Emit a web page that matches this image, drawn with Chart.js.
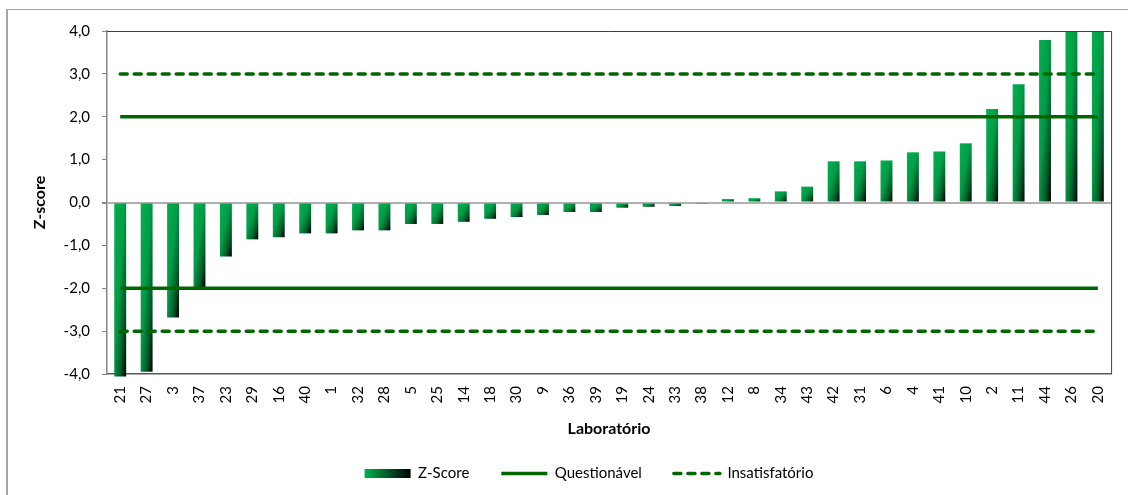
<!DOCTYPE html>
<html>
<head>
<meta charset="utf-8">
<script src="https://cdn.jsdelivr.net/npm/chart.js@4"></script>
<style>
  html, body { margin: 0; padding: 0; background: #fff; }
  #wrap { position: relative; width: 1128px; height: 495px; overflow: hidden; }
  #frame { position: absolute; left: 6px; top: 9px; width: 1200px; height: 600px;
           border-left: 2px solid #a6a6a6; border-top: 1px solid #a6a6a6; }
  #chart { position: absolute; left: 0; top: 0; }
</style>
</head>
<body>
<div id="wrap">
  <div id="frame"></div>
  <canvas id="chart" width="1128" height="495"></canvas>
</div>
<script>
// laboratories, sorted by z-score
const labs = ['21','27','3','37','23','29','16','40','1','32','28','5','25','14','18','30','9','36','39',
              '19','24','33','38','12','8','34','43','42','31','6','4','41','10','2','11','44','26','20'];
const zScores = [-4.06,-3.95,-2.68,-2.0,-1.26,-0.86,-0.81,-0.72,-0.72,-0.65,-0.65,-0.50,-0.50,-0.45,-0.38,
                 -0.34,-0.29,-0.22,-0.22,-0.12,-0.10,-0.08,-0.03,0.08,0.10,0.26,0.37,0.96,0.96,0.98,
                 1.17,1.19,1.38,2.18,2.76,3.79,4.0,4.0];
// limits
const questionavel = 2;
const insatisfatorio = 3;
const yTicks = [-4, -3, -2, -1, 0, 1, 2, 3, 4];

const GREEN = '#00b050';
const LINE_GREEN = '#006600';
const BAR_PCT = 0.45;
const FONT = 'Lato, "Open Sans", sans-serif';

const flat = v => labs.map(() => v);

// 45 degree gradient scaled to each bar
function barFill(c) {
  const chart = c.chart;
  const xs = chart.scales.x, ys = chart.scales.y;
  if (!chart.chartArea || !xs || !ys || c.type !== 'data') return GREEN;
  const v = c.raw;
  const w = xs.width / labs.length * BAR_PCT;
  const x0 = xs.getPixelForValue(c.dataIndex) - w / 2;
  const top = ys.getPixelForValue(Math.max(v, 0));
  const h = Math.max(ys.getPixelForValue(Math.min(v, 0)) - top, 1);
  const s = 2 / (1 / (w * w) + 1 / (h * h));
  const g = chart.ctx.createLinearGradient(x0, top, x0 + s / w, top + s / h);
  g.addColorStop(0, GREEN);
  g.addColorStop(0.45, '#009c46');
  g.addColorStop(0.75, '#005a28');
  g.addColorStop(1, '#000000');
  return g;
}

const framePlot = {
  id: 'framePlot',
  afterLayout(chart) {
    const lg = chart.legend;
    lg.left += 30; lg.right += 30;
    if (lg.adjustHitBoxes) lg.adjustHitBoxes();
  },
  beforeDraw(chart) {
    const lg = chart.legend;
    const i = lg.legendItems.findIndex(it => it.datasetIndex === 0);
    const hb = lg.legendHitBoxes && lg.legendHitBoxes[i];
    if (hb) {
      const g = chart.ctx.createLinearGradient(hb.left, 0, hb.left + 46, 0);
      g.addColorStop(0, GREEN);
      g.addColorStop(1, '#000000');
      lg.legendItems[i].fillStyle = g;
    }
  },
  afterDatasetsDraw(chart) {
    const {ctx, chartArea: a} = chart;
    ctx.save();
    ctx.strokeStyle = '#404040';
    ctx.lineWidth = 1;
    ctx.beginPath();
    ctx.moveTo(a.left, a.top + 0.5);
    ctx.lineTo(a.right + 0.5, a.top + 0.5);
    ctx.lineTo(a.right + 0.5, a.bottom);
    ctx.stroke();
    ctx.restore();
  }
};

const limitLine = (label, v, dashed) => ({
  type: 'line',
  label: label,
  data: flat(v),
  borderColor: LINE_GREEN,
  backgroundColor: LINE_GREEN,
  borderWidth: 3.5,
  borderDash: dashed ? [7, 7] : [],
  borderCapStyle: dashed ? 'round' : 'butt',
  pointRadius: 0,
  fill: false,
  order: 1
});

function legendItems(chart) {
  const items = Chart.defaults.plugins.legend.labels.generateLabels(chart);
  items.forEach(it => {
    const ds = chart.data.datasets[it.datasetIndex];
    if (ds.type === 'line') {
      it.pointStyle = 'line';
      it.lineWidth = ds.borderWidth;
      it.lineDash = ds.borderDash;
      it.lineCap = ds.borderCapStyle;
      it.strokeStyle = ds.borderColor;
    } else {
      it.pointStyle = 'rect';
      it.lineWidth = 0;
    }
  });
  return items;
}

new Chart(document.getElementById('chart'), {
  type: 'bar',
  data: {
    labels: labs,
    datasets: [
      { label: 'Z-Score', data: zScores, backgroundColor: barFill, borderWidth: 0,
        categoryPercentage: 1, barPercentage: BAR_PCT, clip: false, order: 2 },
      limitLine('Questionável', questionavel, false),
      limitLine('Questionável', -questionavel, false),
      limitLine('Insatisfatório', insatisfatorio, true),
      limitLine('Insatisfatório', -insatisfatorio, true)
    ]
  },
  options: {
    responsive: false,
    animation: false,
    layout: { padding: { top: 31, right: 10, bottom: 4, left: 0 } },
    plugins: {
      tooltip: { enabled: false },
      legend: {
        position: 'bottom',
        maxHeight: 60,
        labels: {
          generateLabels: legendItems,
          filter: it => it.datasetIndex !== 2 && it.datasetIndex !== 4,
          sort: (a, b) => a.datasetIndex - b.datasetIndex,
          usePointStyle: true,
          pointStyleWidth: 46,
          boxWidth: 46,
          boxHeight: 9,
          padding: 32,
          color: '#000',
          font: { family: FONT, size: 15 }
        }
      }
    },
    scales: {
      x: {
        afterFit: s => { s.height = 60; },
        grid: { display: true, drawOnChartArea: false, drawTicks: false },
        border: { color: '#595959', width: 1.5 },
        ticks: { autoSkip: false, maxRotation: 90, minRotation: 90, padding: 12,
                 color: '#000', font: { family: FONT, size: 15 } },
        title: { display: true, text: 'Laboratório', color: '#000',
                 font: { family: FONT, size: 16, weight: 'bold' }, padding: { top: 0, bottom: -4 } }
      },
      y: {
        min: -4, max: 4,
        afterFit: s => { s.width = 107; },
        afterBuildTicks: s => { s.ticks = yTicks.map(v => ({ value: v })); },
        grid: {
          color: c => c.tick && c.tick.value === 0 ? '#b0b0b0' : 'rgba(0,0,0,0)',
          lineWidth: c => c.tick && c.tick.value === 0 ? 2 : 1,
          tickColor: '#868686', tickLength: 5, drawTicks: true
        },
        border: { color: '#868686', width: 1.5 },
        ticks: { padding: 12, color: '#000', font: { family: FONT, size: 15 },
                 callback: v => v.toFixed(1).replace('.', ',') },
        title: { display: true, text: 'Z-score', color: '#000',
                 font: { family: FONT, size: 16, weight: 'bold' }, padding: { top: 30, bottom: 0 } }
      }
    }
  },
  plugins: [framePlot]
});
</script>
</body>
</html>
